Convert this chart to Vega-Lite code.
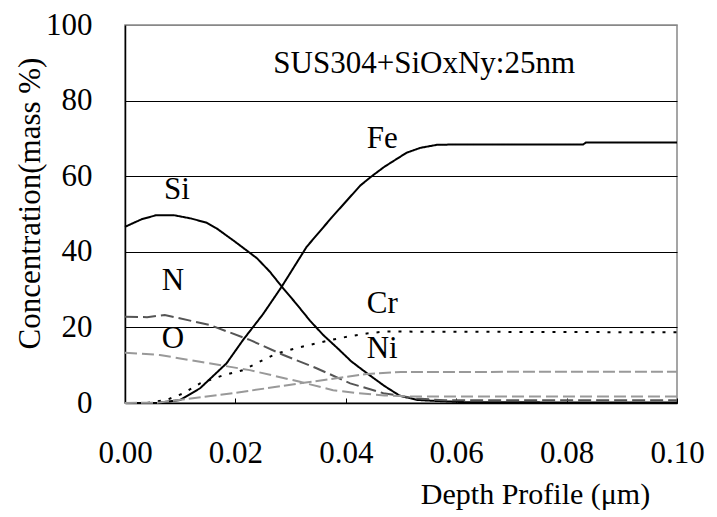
{
  "$schema": "https://vega.github.io/schema/vega-lite/v6.json",
  "width": 552,
  "height": 378,
  "autosize": {"type": "none"},
  "padding": {"left": 125, "top": 25, "right": 40, "bottom": 114},
  "background": "white",
  "config": {
    "font": "Liberation Serif",
    "view": {"stroke": "#888", "strokeWidth": 1.5}
  },
  "datasets": {
    "profile": [
      {"element": "Si", "depth": 0, "conc": 46.6},
      {"element": "Si", "depth": 0.003, "conc": 48.6},
      {"element": "Si", "depth": 0.0057, "conc": 49.7},
      {"element": "Si", "depth": 0.0088, "conc": 49.7},
      {"element": "Si", "depth": 0.012, "conc": 48.8},
      {"element": "Si", "depth": 0.0148, "conc": 47.7},
      {"element": "Si", "depth": 0.0166, "conc": 46.2},
      {"element": "Si", "depth": 0.02, "conc": 42.6},
      {"element": "Si", "depth": 0.0239, "conc": 38.3},
      {"element": "Si", "depth": 0.0262, "conc": 34.8},
      {"element": "Si", "depth": 0.0284, "conc": 30.8},
      {"element": "Si", "depth": 0.031, "conc": 26.3},
      {"element": "Si", "depth": 0.0335, "conc": 21.8},
      {"element": "Si", "depth": 0.0359, "conc": 18},
      {"element": "Si", "depth": 0.0385, "conc": 14.5},
      {"element": "Si", "depth": 0.041, "conc": 11},
      {"element": "Si", "depth": 0.0438, "conc": 7.9},
      {"element": "Si", "depth": 0.047, "conc": 4.5},
      {"element": "Si", "depth": 0.0498, "conc": 1.9},
      {"element": "Si", "depth": 0.053, "conc": 0.8},
      {"element": "Si", "depth": 0.057, "conc": 0.5},
      {"element": "Si", "depth": 0.062, "conc": 0.2},
      {"element": "Si", "depth": 0.1, "conc": 0.1},
      {"element": "Fe", "depth": 0, "conc": 0},
      {"element": "Fe", "depth": 0.0058, "conc": 0},
      {"element": "Fe", "depth": 0.01, "conc": 0.8},
      {"element": "Fe", "depth": 0.0136, "conc": 3.9},
      {"element": "Fe", "depth": 0.0184, "conc": 10.5},
      {"element": "Fe", "depth": 0.0214, "conc": 16.7},
      {"element": "Fe", "depth": 0.025, "conc": 23.5},
      {"element": "Fe", "depth": 0.0284, "conc": 30.8},
      {"element": "Fe", "depth": 0.0329, "conc": 41.3},
      {"element": "Fe", "depth": 0.0374, "conc": 49},
      {"element": "Fe", "depth": 0.0426, "conc": 57.5},
      {"element": "Fe", "depth": 0.0447, "conc": 60},
      {"element": "Fe", "depth": 0.047, "conc": 62.5},
      {"element": "Fe", "depth": 0.051, "conc": 66.2},
      {"element": "Fe", "depth": 0.0535, "conc": 67.5},
      {"element": "Fe", "depth": 0.0565, "conc": 68.3},
      {"element": "Fe", "depth": 0.06, "conc": 68.4},
      {"element": "Fe", "depth": 0.083, "conc": 68.4},
      {"element": "Fe", "depth": 0.0835, "conc": 68.9},
      {"element": "Fe", "depth": 0.1, "conc": 68.9},
      {"element": "Cr", "depth": 0, "conc": 0},
      {"element": "Cr", "depth": 0.004, "conc": 0},
      {"element": "Cr", "depth": 0.0075, "conc": 0.8},
      {"element": "Cr", "depth": 0.0105, "conc": 2.5},
      {"element": "Cr", "depth": 0.0136, "conc": 5.2},
      {"element": "Cr", "depth": 0.0175, "conc": 7.2},
      {"element": "Cr", "depth": 0.0214, "conc": 8.7},
      {"element": "Cr", "depth": 0.0245, "conc": 11},
      {"element": "Cr", "depth": 0.0275, "conc": 13.1},
      {"element": "Cr", "depth": 0.031, "conc": 14.5},
      {"element": "Cr", "depth": 0.0347, "conc": 15.8},
      {"element": "Cr", "depth": 0.039, "conc": 17.2},
      {"element": "Cr", "depth": 0.0438, "conc": 18.4},
      {"element": "Cr", "depth": 0.047, "conc": 18.9},
      {"element": "Cr", "depth": 0.1, "conc": 18.7},
      {"element": "N", "depth": 0, "conc": 22.8},
      {"element": "N", "depth": 0.004, "conc": 22.7},
      {"element": "N", "depth": 0.0072, "conc": 23.3},
      {"element": "N", "depth": 0.0154, "conc": 20.6},
      {"element": "N", "depth": 0.0226, "conc": 16.7},
      {"element": "N", "depth": 0.0287, "conc": 12.7},
      {"element": "N", "depth": 0.0347, "conc": 9.2},
      {"element": "N", "depth": 0.0408, "conc": 5.2},
      {"element": "N", "depth": 0.0468, "conc": 2.6},
      {"element": "N", "depth": 0.0528, "conc": 1.2},
      {"element": "N", "depth": 0.058, "conc": 0.7},
      {"element": "N", "depth": 0.1, "conc": 0.7},
      {"element": "O", "depth": 0, "conc": 13.3},
      {"element": "O", "depth": 0.0063, "conc": 12.7},
      {"element": "O", "depth": 0.0136, "conc": 10.9},
      {"element": "O", "depth": 0.0226, "conc": 8.7},
      {"element": "O", "depth": 0.0317, "conc": 5.6},
      {"element": "O", "depth": 0.0377, "conc": 3.4},
      {"element": "O", "depth": 0.042, "conc": 2.6},
      {"element": "O", "depth": 0.047, "conc": 2},
      {"element": "O", "depth": 0.052, "conc": 1.7},
      {"element": "O", "depth": 0.1, "conc": 1.7},
      {"element": "Ni", "depth": 0, "conc": 0},
      {"element": "Ni", "depth": 0.006, "conc": 0.1},
      {"element": "Ni", "depth": 0.0196, "conc": 2.6},
      {"element": "Ni", "depth": 0.0317, "conc": 5.2},
      {"element": "Ni", "depth": 0.0438, "conc": 7.7},
      {"element": "Ni", "depth": 0.05, "conc": 8.2},
      {"element": "Ni", "depth": 0.1, "conc": 8.3}
    ],
    "labels": [
      {"text": "Si", "depth": 0.0094, "conc": 56.3, "size": "big"},
      {"text": "Fe", "depth": 0.0466, "conc": 69.8, "size": "big"},
      {"text": "N", "depth": 0.0087, "conc": 32.3, "size": "big"},
      {"text": "Cr", "depth": 0.0466, "conc": 26.3, "size": "big"},
      {"text": "O", "depth": 0.0087, "conc": 16.9, "size": "big"},
      {"text": "Ni", "depth": 0.0466, "conc": 14.3, "size": "big"},
      {"text": "SUS304+SiOxNy:25nm", "depth": 0.0542, "conc": 89.8, "size": "big"}
    ]
  },
  "layer": [
    {
      "data": {"name": "profile"},
      "mark": {"type": "line", "strokeWidth": 2},
      "encoding": {
        "x": {
          "field": "depth",
          "type": "quantitative",
          "scale": {"domain": [0, 0.1], "nice": false},
          "axis": {
            "values": [0, 0.02, 0.04, 0.06, 0.08, 0.1],
            "format": ".2f",
            "grid": false,
            "labelFontSize": 31,
            "labelColor": "black",
            "labelPadding": 40,
            "labelDx": -4,
            "labelFlush": false,
            "domainColor": "black",
            "domainWidth": 1.5,
            "tickColor": "black",
            "tickSize": -5,
            "tickWidth": 1,
            "title": "Depth Profile (μm)",
            "titleFontSize": 30,
            "titleFontWeight": "normal",
            "titleColor": "black",
            "titleX": 410,
            "titleY": 100,
            "titleAlign": "center",
            "titleBaseline": "alphabetic"
          }
        },
        "y": {
          "field": "conc",
          "type": "quantitative",
          "scale": {"domain": [0, 100], "nice": false},
          "axis": {
            "values": [0, 20, 40, 60, 80, 100],
            "grid": true,
            "gridColor": {"condition": {"test": "datum.value === 100", "value": "#888"}, "value": "black"},
            "gridWidth": 1,
            "gridOpacity": 1,
            "ticks": false,
            "labelFontSize": 31,
            "labelColor": "black",
            "labelPadding": 33,
            "labelFlush": false,
            "domainColor": "black",
            "domainWidth": 1.5,
            "title": "Concentration(mass %)",
            "titleFontSize": 31,
            "titleFontWeight": "normal",
            "titleColor": "black",
            "titleAngle": 270,
            "titleX": -95,
            "titleY": 178,
            "titleAlign": "center",
            "titleBaseline": "middle"
          }
        },
        "color": {
          "field": "element",
          "type": "nominal",
          "scale": {"domain": ["Si", "Fe", "Cr", "N", "O", "Ni"], "range": ["#000000", "#000000", "#000000", "#555555", "#999999", "#999999"]},
          "legend": null
        },
        "strokeDash": {
          "field": "element",
          "type": "nominal",
          "scale": {"domain": ["Si", "Fe", "Cr", "N", "O", "Ni"], "range": [[1, 0], [1, 0], [3, 8], [13, 5], [12, 5], [12, 4]]},
          "legend": null
        }
      }
    },
    {
      "data": {"name": "labels"},
      "mark": {"type": "text", "fontSize": 31, "color": "black", "align": "center", "baseline": "middle"},
      "encoding": {
        "x": {"field": "depth", "type": "quantitative"},
        "y": {"field": "conc", "type": "quantitative"},
        "text": {"field": "text", "type": "nominal"}
      }
    }
  ]
}
